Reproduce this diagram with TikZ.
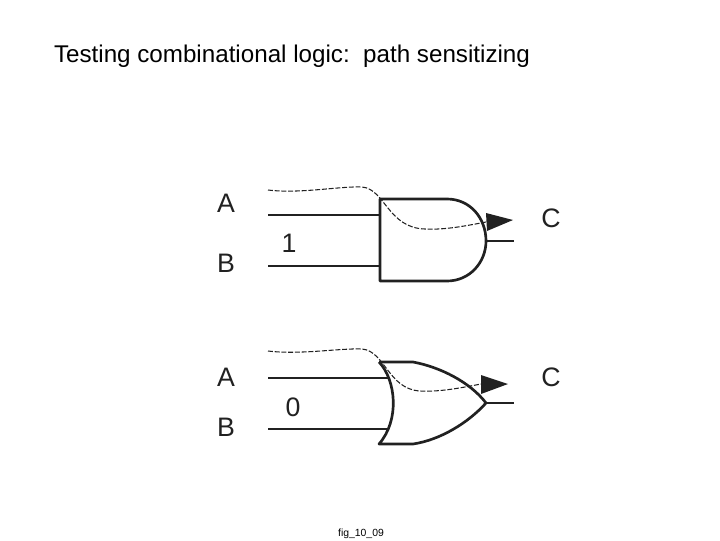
\documentclass[tikz,border=0pt]{standalone}
\usepackage{fontspec}
\setmainfont{Liberation Sans}
\definecolor{dink}{rgb}{0.13,0.13,0.13}
\tikzset{
  wire/.style={draw=dink,line width=1.9pt},
  sens/.style={draw=dink,line width=0.75pt,dash pattern=on 3.5pt off 1.3pt},
  tip/.style={fill=dink,draw=none},
  lab/.style={text=dink,font=\fontsize{19}{20}\selectfont,inner sep=0pt},
}
% two pins, output stub and the labels of one gate
\newcommand{\pins}[8]{
\coordinate (#1a) at (268,#2);
\coordinate (#1ae) at (#3,#2);
\coordinate (#1b) at (268,#4);
\coordinate (#1be) at (#3,#4);
\coordinate (#1o) at (486,#5);
\coordinate (#1oe) at (514,#5);
\draw[wire] (#1a) -- (#1ae);
\draw[wire] (#1b) -- (#1be);
\draw[wire] (#1o) -- (#1oe);
\node[lab] (#1la) at (226,#6) {A};
\node[lab] (#1lb) at (226,#7) {B};
\node[lab] (#1lc) at (551,#8) {C};
}
\begin{document}
\begin{tikzpicture}[x=0.025cm,y=-0.025cm]
\useasboundingbox (0,0) rectangle (720,540);

\node[inner sep=0pt,font=\fontsize{17.2}{18}\selectfont] (title) at (292,56.5) {Testing combinational logic:~~path sensitizing};
\node[inner sep=0pt,font=\fontsize{7.4}{8}\selectfont] (fig) at (361,534) {fig\_10\_09};

% and
\pins{u}{215}{380}{266}{241}{203}{263}{218}
\node[lab] (uval) at (289,243) {1};
\draw[wire,line join=round] (447,199) -- (380,199) -- (380,281) -- (447,281)
  .. controls (470,281) and (486,262) .. (486,241)
  .. controls (486,218) and (470,199) .. (447,199);

\coordinate (us) at (268,190);
\coordinate (ue) at (486,222);
\draw[sens] (us) .. controls (300,194) and (340,186) .. (362,187)
  .. controls (385,189) and (388,228) .. (425,229)
  .. controls (445,230) and (465,226) .. (ue);
\fill[tip] (486,213) -- (513,220) -- (487,231) -- cycle;

% or
\pins{d}{378}{388}{429}{403}{377}{427}{377}
\node[lab] (dval) at (293,407) {0};
\draw[wire,line join=round] (379,362) -- (413,362)
  .. controls (440,367) and (470,382) .. (486,403)
  .. controls (468,423) and (440,440) .. (413,444)
  -- (379,444) .. controls (400,420) and (396,380) .. (379,362);

\coordinate (ds) at (268,351);
\coordinate (de) at (481,384);
\draw[sens] (ds) .. controls (300,355) and (340,348) .. (362,349)
  .. controls (385,351) and (388,389) .. (420,391)
  .. controls (440,392) and (460,388) .. (de);
\fill[tip] (481,375) -- (508,384) -- (481,394) -- cycle;
\end{tikzpicture}
\end{document}
